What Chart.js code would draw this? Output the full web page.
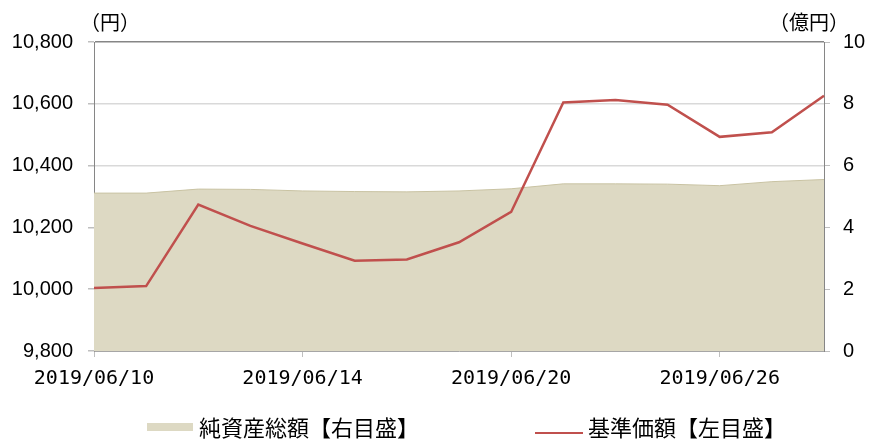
<!DOCTYPE html>
<html lang="ja">
<head>
<meta charset="utf-8">
<script src="https://cdn.jsdelivr.net/npm/chart.js@4/dist/chart.umd.min.js"></script>
<style>
  html, body { margin: 0; padding: 0; background: #fff; }
  #wrap { position: relative; width: 870px; height: 441px; }
  canvas { position: absolute; left: 0; top: 0; }
  .lbl { position: absolute; font-family: "Noto Sans CJK JP", sans-serif; color: #000; white-space: nowrap; line-height: 1; }
  .unit { font-size: 20px; top: 12px; }
  .leg { font-size: 22px; top: 415px; }
</style>
</head>
<body>
<div id="wrap">
  <canvas id="grafico" width="870" height="441"></canvas>
  <div class="lbl unit" style="left:80px">（円）</div>
  <div class="lbl unit" style="left:769px">（億円）</div>
  <div style="position:absolute;left:147px;top:423px;width:46px;height:8px;background:#ddd9c3"></div>
  <div class="lbl leg" style="left:199px">純資産総額【右目盛】</div>
  <div style="position:absolute;left:535px;top:432px;width:48px;height:2px;background:#c0504d"></div>
  <div class="lbl leg" style="left:588px">基準価額【左目盛】</div>
</div>
<script>
// 日付（営業日）
const fechas = [
  "2019/06/10", "2019/06/11", "2019/06/12", "2019/06/13", "2019/06/14",
  "2019/06/17", "2019/06/18", "2019/06/19", "2019/06/20", "2019/06/21",
  "2019/06/24", "2019/06/25", "2019/06/26", "2019/06/27", "2019/06/28"
];
// 基準価額（円・左目盛）
const kijunKagaku = [10004, 10010, 10274, 10205, 10148, 10092, 10096, 10152, 10250, 10604, 10612, 10597, 10493, 10508, 10626];
// 純資産総額（億円・右目盛）
const junShisan = [5.11, 5.11, 5.24, 5.23, 5.18, 5.16, 5.15, 5.18, 5.25, 5.41, 5.41, 5.40, 5.35, 5.48, 5.55];
// 目盛
const ejeIzq = { min: 9800, max: 10800, paso: 200 };
const ejeDer = { min: 0, max: 10, paso: 2 };
const fuenteNum = "'Liberation Sans', Arial, sans-serif";

const ctx = document.getElementById("grafico").getContext("2d");
new Chart(ctx, {
  type: "line",
  data: {
    labels: fechas,
    datasets: [
      {
        label: "基準価額【左目盛】",
        data: kijunKagaku,
        yAxisID: "y",
        borderColor: "#c0504d",
        borderWidth: 2.5,
        pointRadius: 0,
        tension: 0,
        fill: false,
        order: 0
      },
      {
        label: "純資産総額【右目盛】",
        data: junShisan,
        yAxisID: "y1",
        borderColor: "#c9c3a3",
        borderWidth: 1,
        backgroundColor: "#ddd9c3",
        pointRadius: 0,
        tension: 0,
        fill: "origin",
        order: 1
      }
    ]
  },
  options: {
    responsive: false,
    animation: false,
    layout: { padding: { top: 42, left: 0, right: 0, bottom: 0 } },
    plugins: {
      legend: { display: false },
      tooltip: { enabled: false }
    },
    scales: {
      x: {
        offset: false,
        afterFit: s => { s.height = 90; },
        border: { color: "#a6a6a6" },
        grid: {
          drawOnChartArea: false,
          tickLength: 6,
          tickColor: c => (c.index % 4 === 0 ? "#bfbfbf" : "rgba(0,0,0,0)")
        },
        ticks: {
          autoSkip: false,
          maxRotation: 0,
          padding: 10,
          color: "#000",
          font: { family: "'DejaVu Sans Mono', monospace", size: 20 },
          callback: (v, i) => (i % 4 === 0 && i <= 12 ? fechas[i] : "")
        }
      },
      y: {
        position: "left",
        min: ejeIzq.min,
        max: ejeIzq.max,
        afterFit: s => { s.width = 94; },
        border: { color: "#868686" },
        grid: {
          color: c => (c.tick && c.tick.value === ejeIzq.max ? "#868686" : "#d9d9d9"),
          lineWidth: 1.5,
          tickLength: 6,
          tickColor: "#bfbfbf"
        },
        ticks: {
          stepSize: ejeIzq.paso,
          padding: 15,
          color: "#000",
          font: { family: fuenteNum, size: 20 },
          callback: v => v.toLocaleString("en-US")
        }
      },
      y1: {
        position: "right",
        min: ejeDer.min,
        max: ejeDer.max,
        afterFit: s => { s.width = 46; },
        border: { color: "#868686" },
        grid: {
          drawOnChartArea: false,
          tickLength: 6,
          tickColor: "#bfbfbf"
        },
        ticks: {
          stepSize: ejeDer.paso,
          padding: 13,
          color: "#000",
          font: { family: fuenteNum, size: 20 }
        }
      }
    }
  }
});
</script>
</body>
</html>
